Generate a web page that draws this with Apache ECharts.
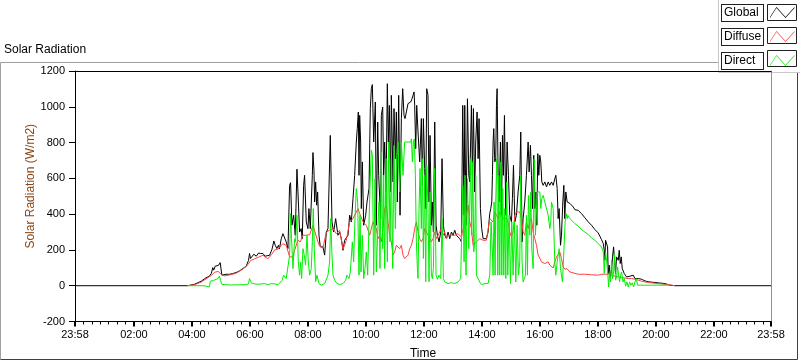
<!DOCTYPE html>
<html>
<head>
<meta charset="utf-8">
<script src="https://cdn.jsdelivr.net/npm/echarts@6/dist/echarts.min.js"></script>
<style>
html,body{margin:0;padding:0;background:#fff;}
#chart{width:800px;height:361px;}
</style>
</head>
<body>
<div id="chart"></div>
<script>
// ---- data (time in minutes after 00:00, value in W/m2) ----
const seriesNames = ['Global', 'Diffuse', 'Direct'];
const xTickLabels = [-2, 120, 240, 360, 480, 600, 720, 840, 960, 1080, 1200, 1320, 1438];
const yTickValues = [-200, 0, 200, 400, 600, 800, 1000, 1200];

const globalData = [
[-2,0],[231,0],[245,8],[259,25],[269,44],[276,53],[280,68],[283,101],[285,87],[288,109],[291.5,101],[295,114],[298.4,129],[301.8,59],[305,53],[310.8,64],[317.7,64],[324.6,68],[331.5,74],[338.4,83],[345.3,96],[352.2,109],[357,142],[359.1,180],[361,152],[364,161],[368,176],[373,165],[377.8,183],[382,180],[386.7,180],[391.6,165],[395.7,157],[400.5,170],[405.4,202],[409.5,250],[412.3,226],[415.7,208],[419,226],
[421,207],[424.8,263],[428.2,291],[431.7,282],[435,245],[438.6,208],[442,561],[444,576],[446.8,338],[450.3,394],[453.7,282],[457.2,651],[459.3,524],[462.7,300],[466,319],[468.2,263],[471,561],[473,617],[476.5,357],[480,319],[482,431],[484.8,319],[489,617],[490.3,744],[492.4,645],[493.8,468],[495.9,580],[498,450],[500,524],[502.8,282],[505.5,217],[511,217],[514.5,171],[518,300],[521.4,319],[526.2,840],[529.7,357],[533,300],[537.3,375],[542,282],[545.5,300],[549,263],[552.5,198],[555.9,254],[559.4,263],[562.8,282],[566.3,394],[569.7,357],[573.2,487],[576.6,617],[580,803],[582,878],[584.2,971],[585.6,617],[587,952],[589,803],[590.4,431],[592.5,692],[595.3,338],[599.4,394],[602.2,468],[606.3,543],[609,990],[611.1,1101],[613.2,1124],[616,803],[619.4,1027],[621.5,338],[624.3,915],[626.3,617],
[630.4,375],[631.8,952],[634.6,999],[636.6,617],[638.7,803],[641.5,524],[644.2,1129],[646.3,803],[648.4,1008],[651,524],[652.5,1064],[656,580],[658,990],[660.8,710],[662.9,971],[665,468],[667.7,1064],[670.5,394],[673.2,934],[676,1101],[678.7,952],[680.8,934],[683.6,971],[687,1018],[690.5,1008],[692.6,1027],[695.3,1045],[697.4,1064],[699.5,1083],[700.8,1008],[702.9,766],[705,1008],[707.7,859],[711.2,692],[714.6,934],[716.7,561],[718.8,934],[721.5,655],[723.6,431],[725.7,1101],[728.4,1064],[730.5,468],[732.6,840],[735.4,338],[737.4,468],[739.5,300],[742.3,915],[745,338],[747.8,282],[751.2,245],[754.7,300],[757.4,710],[760.2,338],[763,282],[766.4,263],[769.9,300],[773.3,263],[776.8,300],[780.2,282],[783.7,310],[787,282],[790.6,291],[794,263],[797.5,245],[800.2,1008],[803,394],[804.4,1008],[807,338],[810,1045],[812.7,617],
[814.7,580],[818.2,1008],[820.2,617],[822.3,990],[825,524],[827.1,803],[829.9,971],[832,710],[834,934],[836.8,431],[839.5,319],[842.3,263],[845.8,254],[849.2,263],[852.7,300],[856.1,403],[858.2,431],[860.3,468],[861.6,617],[863,803],[864.4,878],[866.5,692],[868.5,710],[870,1008],[871.3,1101],[873.4,617],[875.5,468],[878.2,803],[880.3,394],[882.4,840],[884.4,617],[886.5,952],[889.3,394],[892,803],[894.8,617],[897.5,394],[901,357],[903,487],[905.2,673],[908,357],[911.3,394],[914.8,524],[918.2,617],[920.3,859],[923,245],[925.1,375],[928.6,468],[932,617],[935.5,803],[937.6,636],[940.3,785],[942.4,617],[944.5,431],[947.2,729],[949.3,431],[951.4,524],[953.5,338],[955.5,738],[957.6,617],[959.7,729],[961.7,692],[963.8,580],[966.6,561],[970,580],[973.5,552],[977,580],[980.4,561],[983.8,580],[987.3,561],[990.7,598],[992.8,617],[995.6,543],[997.6,375],[999.7,431],[1002.5,226],[1004.5,282],[1007.3,468],[1009.4,561],[1011.4,375],[1013.5,524],[1016.3,468],[1019,478],
[1021.9,460],[1025.3,450],[1028.8,440],[1032.2,425],[1039.1,421],[1046,403],[1052.9,380],[1059.8,357],[1066.7,338],[1073.6,314],[1080.5,295],[1087.4,258],[1090.9,236],[1093,198],[1094.3,142],[1095.7,254],[1097.8,245],[1099.9,217],[1101.2,68],[1103.3,115],[1105.4,49],[1108.1,87],[1110.2,161],[1112.3,217],[1114.4,142],[1116.4,68],[1118.5,161],[1122,142],[1124,198],[1126.1,124],[1128.2,161],[1130.2,96],[1132.3,105],[1134.4,68],[1136.4,77],[1139.2,49],[1142.7,40],[1146.1,53],[1149.6,44],[1153,59],[1156.5,40],[1159.9,49],[1163.4,40],[1166.8,45],[1170.3,36],[1177.2,27],[1184,22],[1191,20],[1204.8,16],[1218.6,12],[1229,3],[1239.3,0],[1438,0]
];

const diffuseData = [
[231,0],[245,5],[259,20],[269,38],[280,58],[287,75],[294,80],[298,85],[302,60],[307,55],[318,60],[331.5,70],[345,92],[356,118],[361,140],[369,150],[378,160],[387,170],[397,150],[405,175],[411,200],[418,205],
[421,207],[428,235],[435,226],[442,161],[449,161],[452.4,198],[459,254],[464,245],[469.6,282],[476.5,282],[483.4,285],[490.3,338],[493.8,347],[500.7,245],[504,222],[511,211],[518,300],[524.8,310],[531.7,319],[538.6,291],[545.5,310],[552.5,204],[559.4,254],[566.3,357],[573.2,375],[580,412],[583.5,431],[587,403],[593.9,357],[600.8,338],[607.7,282],[614.6,357],[621.5,319],[625,263],[628.4,282],
[631.8,245],[635.3,319],[638.7,431],[642.2,450],[645.6,357],[649,282],[652.5,245],[656,171],[659.4,189],[662.9,226],[666.3,235],[669.8,207],[673.2,226],[676.7,171],[680,152],[683.6,143],[687,171],[690.5,207],[694,226],[697.4,263],[700.8,319],[704.3,357],[707.7,300],[711.2,263],[714.6,245],[718,263],[721.5,319],[725,300],[728.4,282],[731.9,263],[735.4,245],[738.8,263],[742.3,300],[745.7,263],[749,258],[756,319],[759.5,282],[763,300],[766.4,263],[769.9,282],[776.8,282],[783.7,282],[790.6,291],[797.5,272],[801,319],[804.4,357],[807.8,394],[811.3,450],
[814.7,357],[818.2,319],[821.6,226],[828.5,245],[835.4,263],[842.3,254],[849.2,254],[852.7,263],[856.1,375],[859.6,385],[863,357],[866.5,412],[870,394],[873.4,375],[876.8,412],[880.3,394],[883.7,375],[887.2,385],[890.6,375],[894,357],[897.5,300],[901,272],[904.4,300],[908,394],[911.3,412],[914.8,403],[918.2,412],[921.7,375],[925.1,300],[928.6,282],[932,357],[935.5,319],[939,357],[942.4,375],[945.9,300],[949.3,263],[952.8,226],[956.2,171],[959.7,154],[963.1,133],[966.6,137],[970,124],[973.5,115],[977,133],[980.4,115],[983.8,105],[987.3,99],[990.7,133],[994.2,161],[997.6,171],[1001,189],[1004.5,152],[1008,105],[1011.4,92],[1015.6,96],
[1021.9,77],[1025.3,68],[1039.1,64],[1052.9,64],[1066.7,61],[1080.5,59],[1087.4,64],[1094.3,64],[1101.2,64],[1108.1,59],[1115,53],[1122,49],[1128.9,45],[1135.8,43],[1142.7,40],[1149.6,40],[1156.5,36],[1163.4,31],[1170.3,25],[1177.2,21],[1191,16],[1204.8,12],[1218.6,8],[1232.4,3],[1239.3,0]
];

const directData = [
[231,0],[265,0],[266,-7],[276,-7],[278,25],[281,15],[285,30],[289,20],[294,40],[297,55],[299,30],[302,8],[307.5,6],[321,4],[335,5],[349,6],[357,10],[359,40],[363,15],[370,10],[376.4,8],[383.3,10],[390,12],[397,6],[404,12],[411,10],[418,5],
[421,12],[426.8,31],[429.6,59],[435,40],[438.6,49],[442,170],[444,403],[446,263],[449,96],[452.4,263],[454.4,245],[457.2,394],[460,133],[462.7,59],[464.8,132],[466.9,40],[469.6,207],[472.4,170],[475,115],[478,282],[480.7,133],[483.4,59],[486.9,96],[489,245],[491,431],[493.1,207],[495.9,22],[498.6,59],[502.8,12],[507.6,3],[514.5,12],[521.4,59],[524.8,133],[527,375],[529.7,170],[531.8,59],[535.2,31],[540,12],[545.5,7],[552.5,12],[558,31],[560.7,59],[564.9,40],[567.6,77],[571.8,245],[574.5,133],[577.3,375],[580,543],[582.8,468],[585.6,59],[587.7,394],[589.7,77],[592.5,282],[595.3,40],[598,96],[600.8,189],[603.5,59],[606.3,59],[608.4,561],[611.1,757],[613.2,729],[616,59],[618.7,598],[621.5,77],[624.3,300],[627,468],
[629,96],[631.8,747],[634.6,207],[636.6,617],[638.7,96],[641.5,710],[644.2,133],[647,803],[649.8,245],[652.5,710],[655.3,96],[658,784],[660.8,319],[663.6,710],[666.3,803],[669.8,524],[673.2,803],[676.7,617],[680,803],[683.6,812],[687,803],[690.5,812],[692.6,803],[694,821],[696,692],[698,803],[700,821],[702.2,617],[704.3,245],[706.4,96],[707.7,40],[709.8,431],[711.9,655],[714.6,319],[716.7,710],[718.8,152],[721.5,617],[723.6,22],[725.7,673],[728.4,431],[730.5,22],[732.6,524],[735.4,59],[737.4,40],[739.5,96],[742.3,655],[745,59],[747.8,36],[751.2,59],[754.7,40],[757.4,375],[760.2,40],[763,21],[769.9,12],[776.8,17],[783.7,12],[790.6,21],[796,40],[800.2,561],[803,133],[805,617],[807,59],[810,598],[812.7,207],
[814.7,207],[816.8,710],[818.8,282],[821,692],[823,189],[825,245],[827.1,617],[828.5,59],[832,49],[835.4,21],[838.9,6],[842.3,3],[845.8,12],[849.2,6],[852.7,12],[856.1,59],[858.9,357],[861.6,189],[863,59],[865.1,468],[867.2,59],[868.5,468],[870.6,710],[872.7,59],[874.8,617],[876.8,59],[879,692],[881,59],[883,543],[885.1,59],[887.2,431],[889.3,40],[891.3,580],[893.4,59],[896.2,394],[899,12],[901.7,357],[904.4,59],[907.2,357],[910,21],[912.7,338],[915.5,59],[918.2,133],[920.3,617],[923,133],[925.1,21],[927.2,12],[930,59],[932,394],[934.1,59],[936.2,505],[939,282],[941,524],[943.1,207],[945.9,96],[948,710],[950.7,282],[952.8,431],[954.8,524],[957,533],[959.7,524],[961.7,431],[963.8,487],[966.6,505],[970,468],[973.5,458],[977,394],[980.4,319],[982.4,357],[983.8,468],[987.3,431],[990.7,133],[992.8,59],[995.6,133],[997.6,170],[999.7,207],[1002.5,96],[1004.5,59],[1006.6,21],[1009.4,189],[1012.1,357],[1014.2,403],[1016.3,375],[1017.7,393],[1019.8,384],
[1021.9,375],[1025.3,366],[1032.2,347],[1039.1,333],[1046,314],[1052.9,300],[1059.8,286],[1066.7,267],[1073.6,254],[1080.5,236],[1087.4,217],[1090.9,189],[1093,68],[1094.3,161],[1095.7,189],[1097.8,180],[1099.9,87],[1102,-7],[1104,68],[1106,21],[1108.1,142],[1110.2,40],[1112.3,77],[1114.4,180],[1116.4,31],[1118.5,49],[1120.6,105],[1122.6,115],[1124.7,21],[1126.8,59],[1128.9,77],[1131.6,21],[1134.4,40],[1137.1,-3],[1139.9,21],[1142.7,-7],[1145.4,21],[1148.2,3],[1151,16],[1153.7,-7],[1156.5,21],[1159.2,40],[1162,3],[1164.7,12],[1168.9,3],[1191,3],[1225.5,3],[1229,0]
];

// ---- chart ----
const FONT = 'Liberation Sans, Arial, sans-serif';
const xMin = -2, xMax = 1438;
const minorTicks = [];
for (let i = 0; i < xTickLabels.length - 1; i++) {
  const a = xTickLabels[i], b = xTickLabels[i + 1];
  for (let k = 1; k < 7; k++) minorTicks.push(a + (b - a) * k / 7);
}
function fmtTime(v) {
  let m = Math.round(v);
  m = ((m % 1440) + 1440) % 1440;
  const h = Math.floor(m / 60), mm = m % 60;
  return String(h).padStart(2, '0') + ':' + String(mm).padStart(2, '0');
}
const zig = 'path://M0,0 L0.01,0 L0.01,0.01 Z M28.99,16.99 L29,16.99 L29,17 Z ' +
  'M2,12.4 L8.5,2.4 L17.5,12.4 L26.5,2.4 L26.5,3.6 L17.5,13.6 L8.5,3.6 L2,13.6 Z';

const chart = echarts.init(document.getElementById('chart'), null, {renderer: 'canvas'});
const colors = ['#000000', '#ff4040', '#00f000'];
const dataSets = [globalData, diffuseData, directData];

chart.setOption({
  animation: false,
  backgroundColor: '#ffffff',
  textStyle: {fontFamily: FONT},
  title: {
    text: 'Solar Radiation', left: 4, top: 44, padding: 0,
    textStyle: {fontSize: 12, fontWeight: 'normal', color: '#000', fontFamily: FONT}
  },
  legend: {
    orient: 'vertical', right: 3, top: 4, padding: 0, itemGap: 6,
    align: 'right', itemWidth: 29, itemHeight: 17, icon: zig,
    itemStyle: {borderWidth: 0},
    data: seriesNames,
    selectedMode: false,
    formatter: '{b|{name}}',
    textStyle: {
      fontSize: 12, color: '#000', fontFamily: FONT,
      rich: {
        b: {
          fontSize: 12, color: '#000', fontFamily: FONT, align: 'left',
          width: 39, height: 16, lineHeight: 16, padding: [0, 0, 0, 2],
          borderColor: '#202020', borderWidth: 1, backgroundColor: '#fff'
        }
      }
    }
  },
  grid: {left: 75, right: 29, top: 71, bottom: 39.5, containLabel: false, outerBoundsMode: 'none'},
  xAxis: [
    {
      type: 'value', min: xMin, max: xMax, position: 'bottom',
      name: 'Time', nameLocation: 'middle', nameGap: 26, nameMoveOverlap: false,
      nameTextStyle: {fontSize: 12, color: '#000', fontFamily: FONT},
      axisLine: {show: true, onZero: false, lineStyle: {color: '#000', width: 1}},
      axisTick: {show: true, customValues: xTickLabels, length: 5, lineStyle: {color: '#000', width: 2}},
      axisLabel: {customValues: xTickLabels, formatter: fmtTime, fontSize: 11, color: '#000', margin: 8, fontFamily: FONT},
      splitLine: {show: false}
    },
    {
      type: 'value', min: xMin, max: xMax, position: 'bottom',
      axisLine: {show: false, onZero: false},
      axisTick: {show: true, customValues: minorTicks, length: 3, lineStyle: {color: '#000', width: 1}},
      axisLabel: {show: false},
      splitLine: {show: false}
    },
    {
      type: 'value', min: xMin, max: xMax, position: 'top',
      axisLine: {show: true, onZero: false, lineStyle: {color: '#000', width: 1}},
      axisTick: {show: false}, axisLabel: {show: false}, splitLine: {show: false}
    }
  ],
  yAxis: [
    {
      type: 'value', min: -200, max: 1200, interval: 200, position: 'left',
      name: 'Solar Radiation (W/m2)', nameLocation: 'middle', nameGap: 38, nameMoveOverlap: false,
      nameTextStyle: {fontSize: 12, color: '#8b4513', fontFamily: FONT, padding: [0, 0, 0, 20]},
      axisLine: {show: true, onZero: false, lineStyle: {color: '#000', width: 1}},
      axisTick: {show: true, length: 6, lineStyle: {color: '#000'}},
      axisLabel: {fontSize: 11, color: '#000', margin: 10, fontFamily: FONT,
        formatter: v => String(v)},
      splitLine: {show: false}
    },
    {
      type: 'value', min: -200, max: 1200, interval: 200, position: 'right',
      axisLine: {show: true, onZero: false, lineStyle: {color: '#909090', width: 1}},
      axisTick: {show: false}, axisLabel: {show: false}, splitLine: {show: false}
    }
  ],
  series: seriesNames.map((n, i) => ({
    name: n, type: 'line', data: dataSets[i], xAxisIndex: 0, yAxisIndex: 0,
    showSymbol: false, symbol: 'none', silent: true, animation: false,
    color: colors[i],
    lineStyle: {width: 1, color: colors[i]},
    emphasis: {disabled: true}
  })),
  graphic: [
    {type: 'polyline', z: 0, silent: true,
      shape: {points: [[718, 62.5], [0.5, 62.5], [0.5, 359.5]]},
      style: {stroke: '#a0a0a0', fill: null, lineWidth: 1}},
    {type: 'polyline', z: 0, silent: true,
      shape: {points: [[0.5, 359.5], [797.5, 359.5], [797.5, 72]]},
      style: {stroke: '#404040', fill: null, lineWidth: 1}},
    {type: 'rect', z: 0, silent: true,
      shape: {x: 718.5, y: -1, width: 90, height: 73.5},
      style: {fill: '#ffffff', stroke: '#c8c8c8', lineWidth: 1}},
    {type: 'rect', z: 10, silent: true, shape: {x: 767.5, y: 4.5, width: 29, height: 16}, style: {fill: null, stroke: '#202020', lineWidth: 1}},
    {type: 'rect', z: 10, silent: true, shape: {x: 767.5, y: 27.5, width: 29, height: 16}, style: {fill: null, stroke: '#202020', lineWidth: 1}},
    {type: 'rect', z: 10, silent: true, shape: {x: 767.5, y: 50.5, width: 29, height: 16}, style: {fill: null, stroke: '#202020', lineWidth: 1}}
  ]
});
</script>
</body>
</html>
